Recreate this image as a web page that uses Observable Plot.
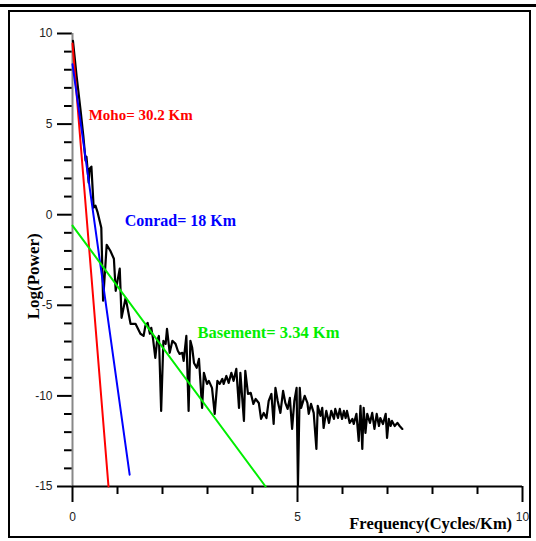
<!DOCTYPE html>
<html><head><meta charset="utf-8">
<script src="https://cdn.jsdelivr.net/npm/d3@7"></script>
<script src="https://cdn.jsdelivr.net/npm/@observablehq/plot@0.6"></script>
<style>
body{margin:0;background:#fff;}
#wrap{position:relative;width:536px;height:541px;overflow:hidden;background:#fff;}
#topline{position:absolute;left:0;top:4px;width:536px;height:3px;background:#000;}
#frame{position:absolute;left:8px;top:10px;width:523px;height:528px;border:2px solid #000;box-sizing:border-box;}
#chart{position:absolute;left:0;top:0;}
</style>
</head><body>
<div id="wrap"><div id="topline"></div><div id="frame"></div><div id="chart"></div></div>
<script>
// Power spectrum (frequency in cycles/km, log power)
const freq = [0.01,0.09,0.18,0.24,0.29,0.31,0.36,0.38,0.42,0.47,0.51,0.56,0.64,0.68,0.76,0.84,0.92,0.96,1.0,1.05,1.09,1.18,1.29,1.4,1.51,1.58,1.62,1.67,1.72,1.75,1.79,1.84,1.88,1.92,1.97,2.02,2.07,2.1,2.16,2.22,2.29,2.34,2.38,2.44,2.47,2.53,2.58,2.62,2.66,2.7,2.76,2.81,2.88,2.92,2.99,3.03,3.1,3.16,3.22,3.27,3.33,3.36,3.42,3.47,3.53,3.58,3.64,3.7,3.73,3.81,3.84,3.9,3.96,4.02,4.07,4.14,4.19,4.25,4.31,4.36,4.42,4.47,4.51,4.56,4.62,4.68,4.73,4.78,4.83,4.88,4.93,4.98,5.01,5.05,5.08,5.16,5.22,5.25,5.3,5.36,5.42,5.45,5.51,5.55,5.58,5.64,5.7,5.75,5.81,5.84,5.9,5.94,5.99,6.03,6.07,6.1,6.16,6.22,6.25,6.31,6.36,6.4,6.44,6.47,6.51,6.55,6.61,6.66,6.71,6.76,6.81,6.84,6.9,6.96,6.99,7.03,7.07,7.1,7.16,7.22,7.27,7.33];
const logPower = [9.6,7.68,5.75,4.36,2.98,3.2,1.77,2.54,2.65,0.39,0.5,0.11,-0.72,-4.75,-1.66,-1.99,-2.43,-4.2,-3.65,-2.98,-5.69,-4.59,-6.02,-6.02,-6.57,-6.69,-6.13,-5.97,-6.57,-6.24,-6.85,-7.9,-6.96,-6.69,-10.83,-6.96,-7.13,-6.3,-7.62,-6.96,-7.13,-7.51,-7.68,-7.62,-8.07,-6.69,-10.83,-6.96,-7.35,-8.18,-8.45,-7.96,-10.66,-8.73,-9.34,-9.17,-9.56,-10.99,-9.17,-9.34,-9.06,-9.34,-8.9,-9.28,-8.73,-9.17,-8.51,-10.66,-8.73,-11.38,-8.62,-9.89,-9.83,-10.44,-10.17,-10.39,-11.27,-10.94,-11.22,-10.28,-9.89,-11.55,-9.56,-10.28,-10.94,-9.72,-10.39,-10.72,-10.11,-11.82,-10.28,-9.56,-14.97,-9.56,-10.66,-10.0,-10.39,-10.99,-10.44,-10.94,-12.93,-10.55,-11.1,-10.66,-11.77,-10.83,-11.49,-10.83,-11.27,-10.72,-11.22,-10.72,-11.27,-10.83,-11.22,-10.83,-11.49,-11.27,-11.55,-10.99,-12.49,-10.55,-12.93,-10.66,-12.04,-10.99,-11.49,-10.94,-11.82,-10.99,-11.66,-11.22,-11.55,-10.99,-12.32,-11.27,-11.66,-11.38,-11.66,-11.49,-11.66,-11.82];

// Fitted segments
const mohoX = [0, 0.8], mohoY = [9.45, -15];
const conradX = [0, 1.27], conradY = [8.3, -14.35];
const basementX = [0, 4.29], basementY = [-0.6, -15];

// Labels
const mohoLabel = "Moho= 30.2 Km";
const conradLabel = "Conrad= 18 Km";
const basementLabel = "Basement= 3.34 Km";
const xTitle = "Frequency(Cycles/Km)";
const yTitle = "Log(Power)";

// Ticks
const xMajor = [0, 5, 10];
const xMinor = [1, 2, 3, 4, 6, 7, 8, 9];
const yMajor = [-15, -10, -5, 0, 5, 10];
const yMinor = [-14,-13,-12,-11,-9,-8,-7,-6,-4,-3,-2,-1,1,2,3,4,6,7,8,9];

const spectrum = freq.map((f, i) => ({f, p: logPower[i]}));
const seg = (xs, ys) => xs.map((x, i) => ({x, y: ys[i]}));
const serif = "'Liberation Serif','Times New Roman',serif";

const chart = Plot.plot({
  width: 536, height: 541,
  marginLeft: 72, marginRight: 14, marginTop: 33, marginBottom: 55,
  x: {domain: [0, 10]},
  y: {domain: [-15, 10]},
  style: {fontFamily: "'Liberation Sans',Arial,sans-serif", fontSize: "12px", background: "transparent", overflow: "visible"},
  marks: [
    Plot.axisY({ticks: yMinor, tickSize: 8, tickFormat: () => "", stroke: "#000", strokeWidth: 2, label: null}),
    Plot.axisY({ticks: yMajor, tickSize: 15, tickPadding: 5, tickFormat: d => String(d), stroke: "#000", fill: "#222", strokeWidth: 2, label: null}),
    Plot.axisX({ticks: xMinor, tickSize: 8, tickFormat: () => "", stroke: "#000", strokeWidth: 2, label: null}),
    Plot.axisX({ticks: xMajor, tickSize: 16, tickPadding: 10, tickFormat: d => String(d), stroke: "#000", fill: "#222", strokeWidth: 2, label: null}),
    Plot.ruleX([0], {y1: -15, y2: 10, stroke: "#888", strokeWidth: 2}),
    Plot.ruleY([-15], {x1: 0, x2: 10, stroke: "#000", strokeWidth: 2}),
    Plot.line(spectrum, {x: "f", y: "p", stroke: "#000", strokeWidth: 2.2}),
    Plot.line(seg(mohoX, mohoY), {x: "x", y: "y", stroke: "#ff0000", strokeWidth: 2}),
    Plot.line(seg(conradX, conradY), {x: "x", y: "y", stroke: "#0000ff", strokeWidth: 2}),
    Plot.line(seg(basementX, basementY), {x: "x", y: "y", stroke: "#00ee00", strokeWidth: 2}),
    Plot.text([mohoLabel], {x: 0.36, y: 5.47, text: d => d, textAnchor: "start", fill: "#ff0000", fontWeight: "bold", fontSize: 15, fontFamily: serif}),
    Plot.text([conradLabel], {x: 1.16, y: -0.36, text: d => d, textAnchor: "start", fill: "#0000ff", fontWeight: "bold", fontSize: 16, fontFamily: serif}),
    Plot.text([basementLabel], {x: 2.78, y: -6.5, text: d => d, textAnchor: "start", fill: "#00ee00", fontWeight: "bold", fontSize: 16.5, fontFamily: serif}),
    Plot.text([xTitle], {x: 7.96, frameAnchor: "bottom", dy: 37, textAnchor: "middle", lineAnchor: "middle", text: d => d, fill: "#000", fontWeight: "bold", fontSize: 16.5, fontFamily: serif}),
    Plot.text([yTitle], {y: -3.4, frameAnchor: "left", dx: -39, rotate: -90, textAnchor: "middle", lineAnchor: "middle", text: d => d, fill: "#000", fontWeight: "bold", fontSize: 17, fontFamily: serif})
  ]
});
document.getElementById("chart").appendChild(chart);
</script>
</body></html>
